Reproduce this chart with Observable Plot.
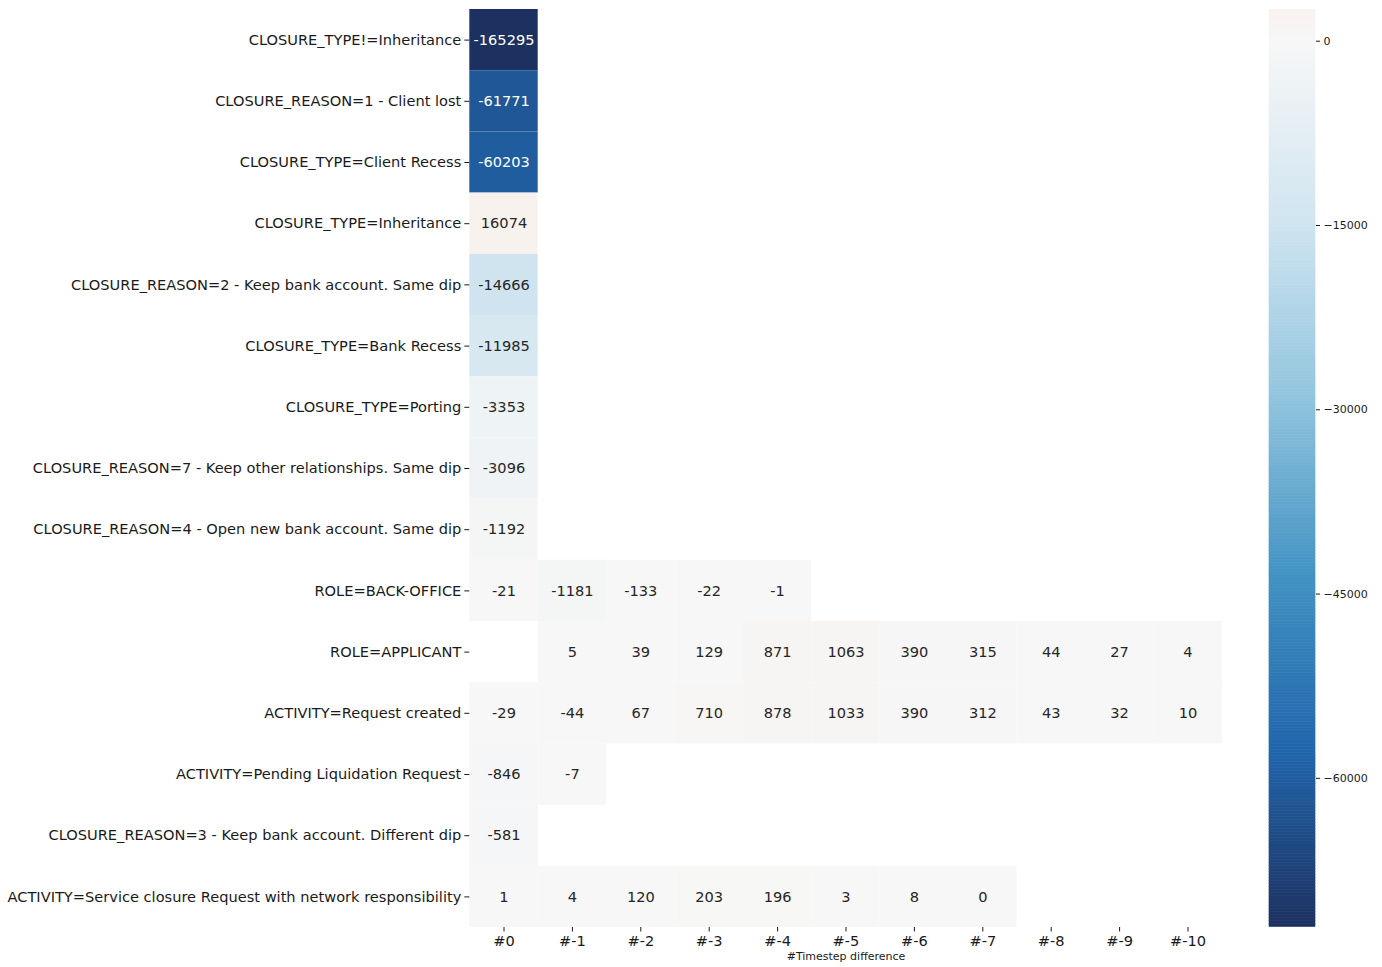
<!DOCTYPE html>
<html>
<head>
<meta charset="utf-8">
<script src="https://cdn.jsdelivr.net/npm/d3@7"></script>
<script src="https://cdn.jsdelivr.net/npm/@observablehq/plot@0.6"></script>
<style>
  html, body { margin: 0; padding: 0; background: #fff; }
  #chart { position: relative; width: 1382px; height: 967px; background: #fff; }
  #chart > svg { position: absolute; top: 0; overflow: visible; }
</style>
</head>
<body>
<div id="chart"></div>
<script>
// ---- Data ----
const rowLabels = [
  "CLOSURE_TYPE!=Inheritance",
  "CLOSURE_REASON=1 - Client lost",
  "CLOSURE_TYPE=Client Recess",
  "CLOSURE_TYPE=Inheritance",
  "CLOSURE_REASON=2 - Keep bank account. Same dip",
  "CLOSURE_TYPE=Bank Recess",
  "CLOSURE_TYPE=Porting",
  "CLOSURE_REASON=7 - Keep other relationships. Same dip",
  "CLOSURE_REASON=4 - Open new bank account. Same dip",
  "ROLE=BACK-OFFICE",
  "ROLE=APPLICANT",
  "ACTIVITY=Request created",
  "ACTIVITY=Pending Liquidation Request",
  "CLOSURE_REASON=3 - Keep bank account. Different dip",
  "ACTIVITY=Service closure Request with network responsibility"
];

const colLabels = ["#0", "#-1", "#-2", "#-3", "#-4", "#-5", "#-6", "#-7", "#-8", "#-9", "#-10"];

// one list per row, columns #0 .. #-10 (null = no value)
const cellValues = [
  [-165295],
  [-61771],
  [-60203],
  [16074],
  [-14666],
  [-11985],
  [-3353],
  [-3096],
  [-1192],
  [-21, -1181, -133, -22, -1],
  [null, 5, 39, 129, 871, 1063, 390, 315, 44, 27, 4],
  [-29, -44, 67, 710, 878, 1033, 390, 312, 43, 32, 10],
  [-846, -7],
  [-581],
  [1, 4, 120, 203, 196, 3, 8, 0]
];

const colorMin = -72100;
const colorMax = 2540;
const colorCenter = 0;
const colorbarTicks = [0, -15000, -30000, -45000, -60000];
const xAxisLabel = "#Timestep difference";

// ---- Colour map (RdBu_r, centred like seaborn) ----
const rdbuStops = ["#67001f", "#b2182b", "#d6604d", "#f4a582", "#fddbc7", "#f7f7f7",
                   "#d1e5f0", "#92c5de", "#4393c3", "#2166ac", "#1d3160"];
const cmapR = d3.piecewise(d3.interpolateRgb, rdbuStops.slice().reverse());
const vrange = Math.max(colorMax - colorCenter, colorCenter - colorMin);
const cmin = (colorMin - (colorCenter - vrange)) / (2 * vrange);
const cmax = (colorMax - (colorCenter - vrange)) / (2 * vrange);
const interp = t => cmapR(cmin + t * (cmax - cmin));
const colorScale = { type: "linear", domain: [colorMin, colorMax], interpolate: interp, clamp: true };

function colorOf(v) {
  const t = Math.max(0, Math.min(1, (v - colorMin) / (colorMax - colorMin)));
  return interp(t);
}
function luminance(c) {
  const rgb = d3.rgb(c);
  const lin = x => { x /= 255; return x <= 0.03928 ? x / 12.92 : Math.pow((x + 0.055) / 1.055, 2.4); };
  return 0.2126 * lin(rgb.r) + 0.7152 * lin(rgb.g) + 0.0722 * lin(rgb.b);
}

const cells = [];
cellValues.forEach((vals, i) => {
  vals.forEach((v, j) => {
    if (v !== null && v !== undefined) cells.push({ row: rowLabels[i], col: colLabels[j], value: v });
  });
});

const FONT = "DejaVu Sans, Verdana, sans-serif";
const FS = 14.6;
const chart = document.getElementById("chart");

// ---- Heatmap ----
const heat = Plot.plot({
  width: 1230,
  height: 967,
  marginLeft: 469.3,
  marginRight: 8.3,
  marginTop: 9,
  marginBottom: 40,
  style: { fontFamily: FONT, color: "#1a1a1a", background: "transparent", overflow: "visible" },
  x: { type: "band", domain: colLabels, padding: 0, round: false },
  y: { type: "band", domain: rowLabels, padding: 0, round: false },
  color: colorScale,
  marks: [
    Plot.cell(cells, { x: "col", y: "row", fill: "value", inset: 0 }),
    Plot.text(cells, {
      x: "col", y: "row",
      text: d => String(d.value),
      fill: d => luminance(colorOf(d.value)) < 0.408 ? "#ffffff" : "#262626",
      fontSize: FS
    }),
    Plot.axisX({ anchor: "bottom", tickSize: 4.5, tickPadding: 3.5, fontSize: FS, label: null }),
    Plot.axisY({ anchor: "left", tickSize: 5, tickPadding: 3.5, fontSize: FS, label: null }),
    Plot.text([xAxisLabel], { frameAnchor: "bottom", dy: 32.5, fontSize: 11, fill: "#1a1a1a" })
  ]
});
heat.style.left = "0px";
chart.appendChild(heat);

// ---- Colour bar ----
const nSlices = 300;
const slices = d3.range(nSlices).map(i => {
  const a = colorMin + (colorMax - colorMin) * i / nSlices;
  const b = colorMin + (colorMax - colorMin) * (i + 1) / nSlices;
  return { y1: a, y2: b, mid: (a + b) / 2 };
});

const bar = Plot.plot({
  width: 152,
  height: 967,
  marginLeft: 39,
  marginRight: 67,
  marginTop: 9.5,
  marginBottom: 40.5,
  style: { fontFamily: FONT, color: "#1a1a1a", background: "transparent", overflow: "visible" },
  x: { domain: [0, 1], axis: null },
  y: { domain: [colorMin, colorMax] },
  color: colorScale,
  marks: [
    Plot.rect(slices, { x1: 0, x2: 1, y1: "y1", y2: "y2", fill: "mid", stroke: "mid", strokeWidth: 0.6 }),
    Plot.axisY(colorbarTicks, {
      anchor: "right", tickSize: 4, tickPadding: 4, fontSize: 11, label: null,
      tickFormat: d => d < 0 ? "\u2212" + Math.abs(d) : String(d)
    })
  ]
});
bar.style.left = "1230px";
chart.appendChild(bar);
</script>
</body>
</html>
